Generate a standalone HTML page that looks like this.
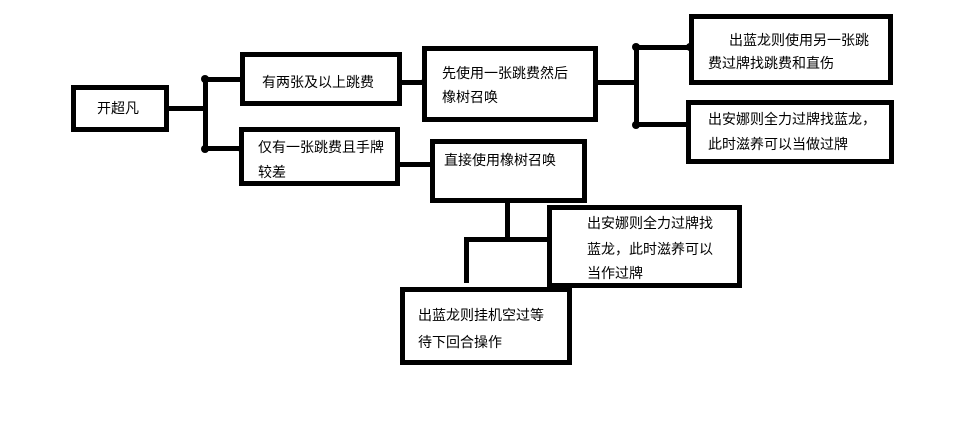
<!DOCTYPE html>
<html><head><meta charset="utf-8"><style>
body{margin:0;width:958px;height:438px;background:#fff;position:relative;overflow:hidden;font-family:"Liberation Sans","Noto Sans CJK SC",sans-serif;font-size:14px;color:#000}
.b{position:absolute;border:5px solid #000;box-sizing:border-box;background:#fff}
.t{position:absolute;white-space:nowrap;line-height:14px}
.l{position:absolute;background:#000}
.d{position:absolute;width:8px;height:8px;border-radius:50%;background:#000}
</style></head><body>
<!-- lines -->
<div class="l" style="left:166px;top:106px;width:41px;height:5px"></div>
<div class="l" style="left:203px;top:77px;width:5px;height:74px"></div>
<div class="l" style="left:203px;top:77px;width:40px;height:5px"></div>
<div class="l" style="left:203px;top:146px;width:40px;height:5px"></div>
<div class="d" style="left:201px;top:75px"></div>
<div class="d" style="left:201px;top:145px"></div>
<div class="d" style="left:238px;top:145px"></div>
<div class="l" style="left:399px;top:80px;width:26px;height:5px"></div>
<div class="d" style="left:421px;top:78px"></div>
<div class="l" style="left:397px;top:162px;width:35px;height:5px"></div>
<div class="l" style="left:595px;top:80px;width:44px;height:5px"></div>
<div class="l" style="left:634px;top:45px;width:5px;height:82px"></div>
<div class="l" style="left:634px;top:45px;width:58px;height:5px"></div>
<div class="l" style="left:634px;top:122px;width:55px;height:5px"></div>
<div class="d" style="left:632px;top:43px"></div>
<div class="d" style="left:632px;top:121px"></div>
<div class="d" style="left:686px;top:43px"></div>
<div class="l" style="left:505px;top:201px;width:5px;height:41px"></div>
<div class="l" style="left:464px;top:237px;width:86px;height:5px"></div>
<div class="l" style="left:464px;top:237px;width:5px;height:46px"></div>
<!-- boxes -->
<div class="b" style="left:71px;top:85px;width:98px;height:47px"></div>
<div class="t" style="left:97px;top:101px">开超凡</div>
<div class="b" style="left:240px;top:52px;width:162px;height:54px"></div>
<div class="t" style="left:262px;top:75px">有两张及以上跳费</div>
<div class="b" style="left:239px;top:127px;width:161px;height:59px"></div>
<div class="t" style="left:258px;top:140px">仅有一张跳费且手牌</div>
<div class="t" style="left:258px;top:165px">较差</div>
<div class="b" style="left:422px;top:46px;width:176px;height:76px"></div>
<div class="t" style="left:442px;top:66px">先使用一张跳费然后</div>
<div class="t" style="left:442px;top:90px">橡树召唤</div>
<div class="b" style="left:430px;top:139px;width:157px;height:64px"></div>
<div class="t" style="left:444px;top:153px">直接使用橡树召唤</div>
<div class="b" style="left:689px;top:14px;width:204px;height:71px"></div>
<div class="t" style="left:729px;top:33px">出蓝龙则使用另一张跳</div>
<div class="t" style="left:708px;top:56px">费过牌找跳费和直伤</div>
<div class="b" style="left:686px;top:100px;width:208px;height:64px"></div>
<div class="t" style="left:708px;top:112px">出安娜则全力过牌找蓝龙，</div>
<div class="t" style="left:708px;top:137px">此时滋养可以当做过牌</div>
<div class="b" style="left:547px;top:205px;width:195px;height:83px"></div>
<div class="t" style="left:587px;top:216px">出安娜则全力过牌找</div>
<div class="t" style="left:587px;top:242px">蓝龙，此时滋养可以</div>
<div class="t" style="left:587px;top:266px">当作过牌</div>
<div class="b" style="left:400px;top:287px;width:172px;height:78px"></div>
<div class="t" style="left:418px;top:308px">出蓝龙则挂机空过等</div>
<div class="t" style="left:418px;top:335px">待下回合操作</div>
</body></html>
